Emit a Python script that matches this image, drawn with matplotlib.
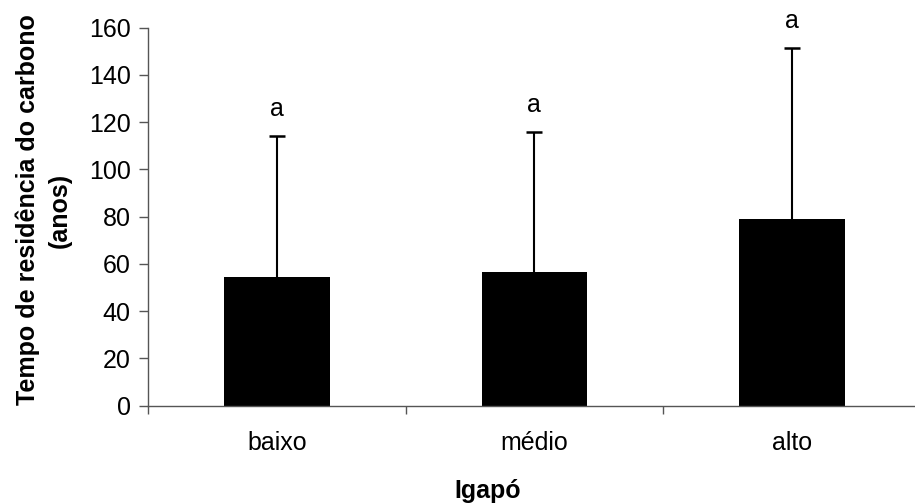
import matplotlib.pyplot as plt
import numpy as np

plt.rcParams['font.family'] = ['Liberation Sans', 'DejaVu Sans']

# Dados
categorias = ['baixo', 'médio', 'alto']
medias = [54.3, 56.7, 78.9]
desvios = [60.0, 59.2, 72.6]
letras = ['a', 'a', 'a']

FS = 18

fig = plt.figure(figsize=(9.15, 5.03), dpi=100)
# o eixo x vai alem da borda direita da figura (como no original)
ax = fig.add_axes([148 / 915, (503 - 405.7) / 503, 772.8 / 915, 378 / 503])

x = np.arange(len(categorias))
ax.bar(x, medias, width=0.41, color='black', zorder=2)
eb = ax.errorbar(x, medias, yerr=[np.zeros(len(medias)), desvios], fmt='none',
                 ecolor='black', elinewidth=1.5, capsize=5.8, capthick=1.8, zorder=3)
eb[1][0].set_visible(False)  # sem traço no topo da barra

for xi, m, d, l in zip(x, medias, desvios, letras):
    ax.annotate(l, (xi, m + d), xytext=(0, 14.5), textcoords='offset points',
                ha='center', va='baseline', fontsize=FS)

ax.set_xlim(-0.5, 2.5)
ax.set_ylim(0, 160)
ax.set_yticks(range(0, 161, 20))
ax.set_xticks(x)
ax.set_xticklabels(categorias, fontsize=FS)
ax.set_xticks([-0.5, 0.5, 1.5, 2.5], minor=True)
ax.tick_params(axis='x', which='major', length=0, pad=18)
ax.tick_params(axis='x', which='minor', length=6, width=1, color='#555555')
ax.tick_params(axis='y', length=6.5, width=1, color='#555555', labelsize=FS, pad=6)

for s in ['top', 'right']:
    ax.spines[s].set_visible(False)
for s in ['left', 'bottom']:
    ax.spines[s].set_color('#555555')
    ax.spines[s].set_linewidth(1)

ax.set_ylabel('Tempo de residência do carbono\n(anos)', fontsize=FS,
              fontweight='bold', linespacing=1.4)
ax.yaxis.set_label_coords((72 - 148) / 772.8, (405.7 - 210) / 378)
ax.set_xlabel('Igapó', fontsize=FS, fontweight='bold')
ax.xaxis.set_label_coords((488 - 148) / 772.8, -(479 - 405.7) / 378)

fig.savefig('out.png', dpi=100)
